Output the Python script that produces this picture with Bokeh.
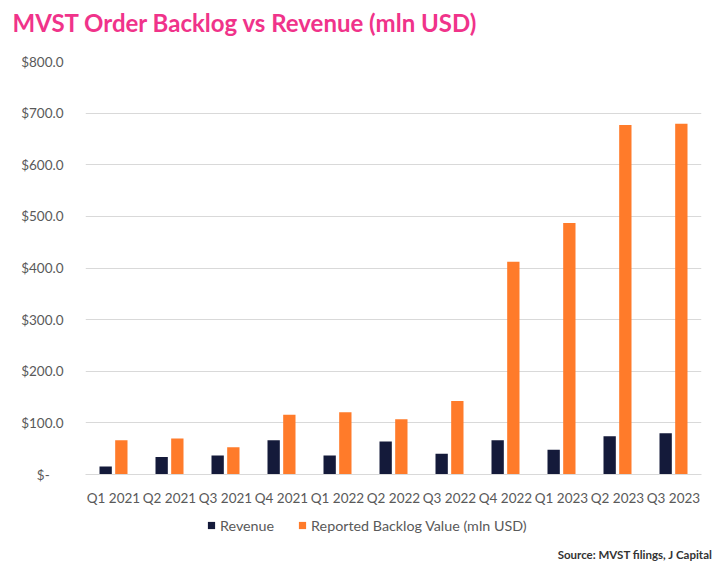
from bokeh.plotting import figure
from bokeh.layouts import column
from bokeh.models import (FactorRange, FixedTicker, Legend, LegendItem,
                          ColumnDataSource)
from bokeh.transform import dodge
from bokeh.embed import file_html
from bokeh.resources import INLINE

quarters = ["Q1 2021", "Q2 2021", "Q3 2021", "Q4 2021", "Q1 2022", "Q2 2022",
            "Q3 2022", "Q4 2022", "Q1 2023", "Q2 2023", "Q3 2023"]
revenue = [15.5, 34.0, 36.8, 66.5, 36.8, 64.0, 40.0, 66.5, 47.7, 74.0, 80.0]
backlog = [66.5, 69.7, 53.0, 115.5, 120.7, 107.0, 142.6, 412.0, 487.0, 677.0, 679.5]
y_ticks = [0, 100, 200, 300, 400, 500, 600, 700, 800]
y_labels = ["$-\u00a0\u00a0\u00a0\u00a0", "$100.0", "$200.0", "$300.0", "$400.0",
            "$500.0", "$600.0", "$700.0", "$800.0"]
title_text = "MVST Order Backlog vs Revenue (mln USD)"
series_names = ["Revenue", "Reported Backlog Value (mln USD)"]
source_text = "Source: MVST filings, J Capital"

FONT = "Lato"
GREY = "#595959"
NAVY = "#141a3a"
ORANGE = "#ff7b2a"
W = 716

# ---- title strip ----
top = figure(width=W, height=50, output_backend="svg", toolbar_location=None,
             x_range=(0, 1), y_range=(0, 1), x_axis_type=None, y_axis_type=None,
             min_border_top=36, min_border_bottom=0,
             min_border_left=85, min_border_right=15)
top.outline_line_color = None
top.title.text = title_text
top.title.text_font = FONT
top.title.text_font_style = "bold"
top.title.text_font_size = "24px"
top.title.text_color = "#f0338a"
top.title.align = "left"
top.title.offset = -73
top.title.standoff = 0

# ---- main chart ----
src = ColumnDataSource(dict(q=quarters, rev=revenue, bl=backlog))

p = figure(width=W, height=460, output_backend="svg", toolbar_location=None,
           x_range=FactorRange(factors=quarters, range_padding=0),
           y_range=(0, 800),
           min_border_left=85, min_border_right=15,
           min_border_top=11, min_border_bottom=36)
p.outline_line_color = None

p.vbar(x=dodge("q", -0.14, range=p.x_range), top="rev", width=0.22,
       source=src, fill_color=NAVY, line_color=None)
p.vbar(x=dodge("q", 0.14, range=p.x_range), top="bl", width=0.22,
       source=src, fill_color=ORANGE, line_color=None)

p.xgrid.grid_line_color = None
p.ygrid.grid_line_color = "#d9d9d9"
p.ygrid.grid_line_width = 1
p.yaxis.ticker = FixedTicker(ticks=y_ticks)
p.yaxis.major_label_overrides = {t: l for t, l in zip(y_ticks, y_labels)}
p.yaxis.axis_line_color = None
p.yaxis.major_tick_line_color = None
p.yaxis.minor_tick_line_color = None
p.yaxis.major_label_standoff = 16
p.xaxis.axis_line_color = "#d9d9d9"
p.xaxis.major_tick_line_color = None
p.xaxis.minor_tick_line_color = None
p.xaxis.major_label_standoff = 9
for ax in (p.xaxis, p.yaxis):
    ax.major_label_text_font = FONT
    ax.major_label_text_font_size = "13.5px"
    ax.major_label_text_color = GREY

# ---- legend + source strip ----
bot = figure(width=W, height=53, output_backend="svg", toolbar_location=None,
             x_range=(0, 1), y_range=(0, 1), x_axis_type=None, y_axis_type=None,
             min_border_top=0, min_border_bottom=18,
             min_border_left=85, min_border_right=15,
             title_location="below")
bot.outline_line_color = None
# legend keys: hidden copies of the two series (only their swatches are shown)
k1 = bot.scatter(x="rev", y="rev", source=src, marker="square",
                 fill_color=NAVY, line_color=None, visible=False)
k2 = bot.scatter(x="bl", y="bl", source=src, marker="square",
                 fill_color=ORANGE, line_color=None, visible=False)
legend = Legend(items=[LegendItem(label=series_names[0], renderers=[k1], index=0),
                       LegendItem(label=series_names[1], renderers=[k2], index=0)],
                orientation="horizontal", location=(117, 11),
                glyph_width=18, glyph_height=18, label_text_font=FONT,
                label_text_font_size="14.3px", label_text_color=GREY,
                spacing=19, label_standoff=0, padding=0, margin=0,
                border_line_color=None, background_fill_alpha=0)
bot.add_layout(legend)
bot.title.text = source_text
bot.title.align = "right"
bot.title.offset = -11
bot.title.standoff = 0
bot.title.text_font = FONT
bot.title.text_font_style = "bold"
bot.title.text_font_size = "11.5px"
bot.title.text_color = "#333333"

layout = column(top, p, bot, spacing=0)
open("out.html", "w").write(file_html(layout, INLINE))
